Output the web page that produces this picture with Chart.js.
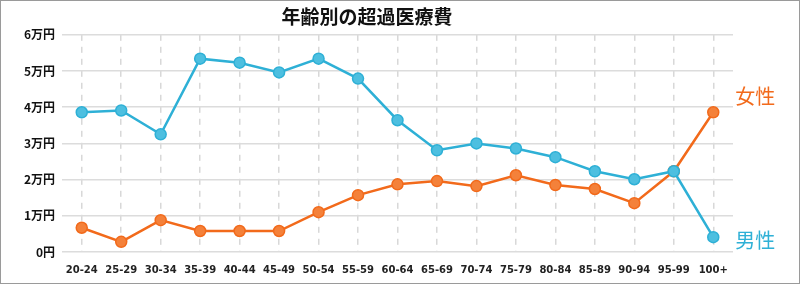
<!DOCTYPE html>
<html>
<head>
<meta charset="utf-8">
<script src="https://cdn.jsdelivr.net/npm/chart.js@4.4.1/dist/chart.umd.min.js"></script>
<style>
  html, body { margin: 0; padding: 0; background: #fff; }
  #wrap { width: 800px; height: 284px; box-sizing: border-box; border: 1px solid #9a9a9a; position: relative; }
</style>
</head>
<body>
<div id="wrap"><canvas id="chart" width="798" height="282"></canvas></div>
<script>
var ages = ['20-24', '25-29', '30-34', '35-39', '40-44', '45-49', '50-54', '55-59', '60-64',
  '65-69', '70-74', '75-79', '80-84', '85-89', '90-94', '95-99', '100+'];
var male = [38600, 39100, 32500, 53400, 52300, 49600, 53400, 47900, 36400,
  28100, 30000, 28600, 26200, 22300, 20100, 22300, 4100];
var female = [6700, 2800, 8800, 5800, 5800, 5800, 11000, 15700, 18700,
  19600, 18200, 21200, 18500, 17400, 13500, 22300, 38600];
var yTicks = [0, 10000, 20000, 30000, 40000, 50000, 60000];

var blue = '#2eb0d6';
var orange = '#f26a1b';

// series names written next to the last point
var endLabels = {
  id: 'endLabels',
  afterDatasetsDraw: function(chart) {
    var ctx = chart.ctx;
    ctx.save();
    ctx.font = '20px "Noto Sans CJK JP"';
    ctx.textBaseline = 'middle';
    chart.data.datasets.forEach(function(ds, i) {
      var meta = chart.getDatasetMeta(i);
      var pt = meta.data[meta.data.length - 1];
      ctx.fillStyle = ds.borderColor;
      var dy = ds.label === '女性' ? -16 : 3;
      ctx.fillText(ds.label, pt.x + 22, pt.y + dy);
    });
    ctx.restore();
  }
};

new Chart(document.getElementById('chart'), {
  type: 'line',
  data: {
    labels: ages,
    datasets: [{
      label: '男性',
      data: male,
      borderColor: blue,
      backgroundColor: '#4dbfe0',
      pointBorderColor: blue,
      borderWidth: 2.5,
      pointRadius: 5.5,
      pointBorderWidth: 1.5,
      tension: 0
    }, {
      label: '女性',
      data: female,
      borderColor: orange,
      backgroundColor: '#f4813a',
      pointBorderColor: orange,
      borderWidth: 2.5,
      pointRadius: 5.5,
      pointBorderWidth: 1.5,
      tension: 0
    }]
  },
  options: {
    responsive: false,
    animation: false,
    layout: { padding: { left: 0, right: 66, top: 0, bottom: 0 } },
    plugins: {
      legend: { display: false },
      tooltip: { enabled: false },
      title: {
        display: true,
        text: '年齢別の超過医療費',
        color: '#111',
        font: { family: '"Noto Sans CJK JP"', size: 19, weight: 'bold' },
        padding: { top: 4, bottom: 7 }
      }
    },
    scales: {
      x: {
        offset: true,
        afterFit: function(axis) { axis.height = 31; },
        grid: { color: '#d8d8d8', lineWidth: 1.5, drawTicks: false },
        border: { display: false, dash: [6, 6] },
        ticks: {
          color: '#222',
          padding: 12,
          maxRotation: 0,
          autoSkip: false,
          font: { family: 'Verdana, "DejaVu Sans"', size: 10, weight: 'bold' }
        }
      },
      y: {
        min: 0,
        max: 60000,
        afterBuildTicks: function(axis) {
          axis.ticks = yTicks.map(function(v) { return { value: v }; });
        },
        afterFit: function(axis) { axis.width = 61; },
        grid: { color: '#dcdcdc', lineWidth: 1.5, drawTicks: false },
        border: { display: false },
        ticks: {
          color: '#111',
          padding: 7,
          font: { family: '"Noto Sans CJK JP"', size: 12, weight: 'bold' },
          callback: function(v) { return v === 0 ? '0円' : (v / 10000) + '万円'; }
        }
      }
    }
  },
  plugins: [endLabels]
});
</script>
</body>
</html>
